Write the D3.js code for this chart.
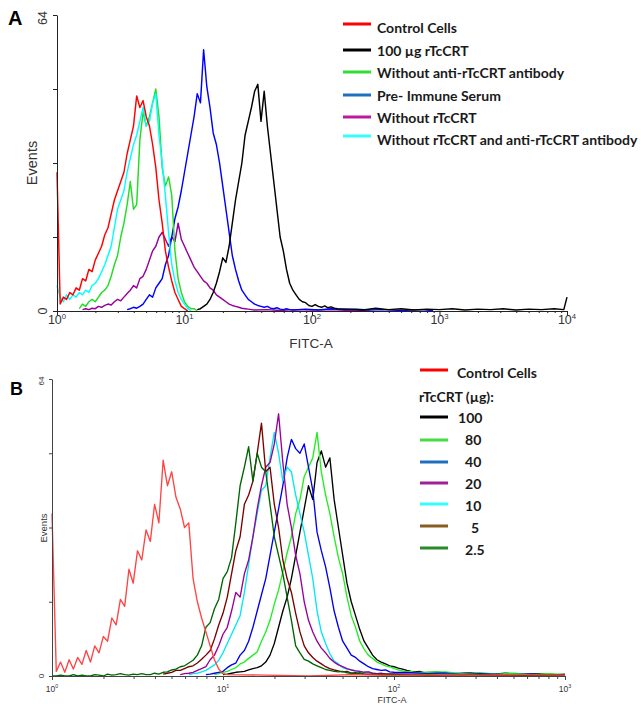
<!DOCTYPE html>
<html><head><meta charset="utf-8">
<script src="https://cdn.jsdelivr.net/npm/d3@7"></script>
<style>body{margin:0;background:#fff}svg{display:block}</style>
</head><body>
<svg id="c" width="641" height="707"></svg>
<script>
// ---------- DATA ----------
// channels: 40 per decade, FITC = 10^(channel/40)
const CH_PER_DECADE = 40;
const yTicks = [0, 16, 32, 48, 64];
const yLabelVals = [0, 64];

// Panel A
const aNames = ["Control Cells", "100 \u00b5g rTcCRT", "Without anti-rTcCRT antibody", "Pre- Immune Serum", "Without rTcCRT", "Without rTcCRT and anti-rTcCRT antibody"];
const aDecades = [1, 10, 100, 1000, 10000];
const aRed = [30,1.5,3,2.5,4,3.5,5,4.5,7,6.5,9,8.5,11,12.5,14,16.5,18,21,24,26,28,30,34,37,40,46.5,44,45.5,42,40,36,31,24,19,13,9.5,6.5,4,2.5,1,0.5,0];
const aBlack = [0.3,0.5,1,1.5,2.5,4,6,8.5,11.5,10.5,14,19,24,28,32,38,41,44,47.5,49,41,47.5,40,34,28,22,16,13,9,6,4.5,3.5,2.5,2,1.8,1.2,1,1.4,1,0.8,1.1,0.7,0.9,0.6,0.5];
const aGreen = [0.5,1.5,1,2,2.5,2,3,4,4.5,5.5,7.5,10,12,16,19,23,28,22,23,37,43,40,42,45,48,42,31,27,29,25,13,7,4,2,1,0.5,0.5,0];
const aBlue = [0.3,0.5,0.8,0.6,1,1.5,2.5,3.5,3,5,6,7,10,12,16,20,22.5,26,30,34,38,42,47,45,56.5,48.5,44,38.5,36,32,27,22,17,12,9,6.5,4.5,3.5,2.5,2,1.5,1.2,1,0.8,1,0.6,0.5,0.7,0.4,0.3,0.5,0.3,0.2];
const aPurple = [0.3,0.5,0.3,0.6,0.5,1,0.8,1.2,1.5,1.3,2,2.5,2.2,3,3.8,4.5,5.5,5,7,7.5,9,11,13,14,16,17,15.5,14,16,15,19,15.5,14,12.5,11,9.5,8.5,7.5,6.5,6,5,4.5,3.5,3,2.5,2,1.5,1.2,1,0.8,0.6,0.5,0.4,0.3,0.2];
const aCyan = [5.5,3,2,3.5,2.5,3.5,3,4,3.5,4.5,4,5.5,6,7,8.5,10,12,14,18,22,24,26,30,33,36,38,41,44,40,41,45,47,38,32,25,17,10,6.5,4,2.5,1.5,0.5,0];
// first channel of each A series (order: red, black, green, blue, purple, cyan)
const aStarts = [0, 44, 7, 22, 8, 0];
// sparse baseline tails [channel, count]
const aBlackTail = [[92,0.4],[96,0.2],[100,0.6],[104,0.3],[108,0.5],[112,0.2],[116,0.4],[120,0.3],[124,0.5],[128,0.2],[132,0.4],[136,0.3],[140,0.5],[144,0.2],[148,0.4],[152,0.3],[156,0.5],[159,0.3],[160,3]];
const aBlueTail = [[78,0.4],[82,0.2],[86,0.5],[90,0.3],[94,0.4],[98,0.2],[102,0.3],[108,0.1],[114,0.3],[118,0.1]];
const aPurpleTail = [[66,0.3],[70,0.1],[74,0.3],[80,0.2],[86,0.3],[92,0.1],[98,0.2]];

// Panel B
const bNames = ["Control Cells", "100", "80", "40", "20", "10", "5", "2.5"];
const bHeader = "rTcCRT (\u00b5g):";
const bDecades = [1, 10, 100, 1000];
const bRed = [35,1,3,0.8,3.5,1.5,4,2.5,5.5,3,6.5,5,8.5,7.5,12.5,11,16.5,15,23,20,27,25,31.5,29,37,33,46.5,41,44,38.5,36,32,33,21,16,12.5,9.5,6.5,3.5,1.5,0.5,0.3];
const bBlack = [0.3,0.4,0.6,0.8,0.9,1,1.3,1.6,1.8,2.2,3,4.5,7,10.5,14,17,21,26,31,36,41,38,46,48.5,45,47,38,32,26,20,16,13,10,7.5,6,4.5,3.5,3,2.6,2.2,2,1.7,1.5,1.2,1,0.9,1,0.7];
const bGreen = [0.3,0.5,0.8,1,1.4,1.8,2.6,3,3.8,4.5,5.2,7.5,9.5,12,15.5,18.5,22.5,26.5,30,35,38,43,45,47,52.5,44,39,35,30,25.5,22,17,13,10.5,7.5,5.8,4.5,3.8,3,2.6,2.2,2,1.6,1.3,1.1,0.9,1,0.7];
const bBlue = [0.3,0.4,0.6,0.8,1,1.8,2.4,2.8,4.5,5.5,7.5,10.5,14,17.5,21,26,31,36,41,47,51,49,48,50,45,40,31,27,23.5,19,14,10.5,7.5,6,4.5,4,3.2,2.6,2,1.6,1.4,1.2,1.3,0.9,0.8];
const bPurple = [0.3,0.5,0.6,0.8,1.2,1.6,2,3.5,4.5,6.5,9,10.5,14,18,17,22,25,30,36,41,45,46,50,56.5,46,37,32,26,22,16,12,9.5,7.5,6,5,3.8,3,2.4,2,1.6,1.3,1.1,1,0.8,0.9,0.6,0.5,0.6,0.4];
const bCyan = [0.3,0.5,0.6,0.9,1.2,1.8,2.4,3.4,5,7,9,11,13,18,24,30,35,40,41,47,52.5,48,42,45,44,39,35,31,26,21,14,9.5,7,4.8,3.2,2.6,1.8,1.5,1.3,1.1,1,0.8,0.9,0.6,0.5];
const bBrown = [0.4,0.6,0.8,1.2,1.2,1.6,2,2.2,2.8,3.6,4.5,5.5,8,11,13.5,17,22,27,30,37,39,42,48,54.5,44,45,37,32,25,21,18,13.5,9.5,6.5,5,4,3.2,2.6,2,1.6,1.3,1.1,0.9,1,0.6,0.7,0.5,0.4];
const bDkGreen = [0,0,0.2,0,0,0.3,0,0.2,0,0,0.3,0.2,0,0.4,0.2,0.3,0.5,0.3,0.2,0.4,0.3,0.5,0.3,0.3,0.6,0.4,0.8,0.9,1.3,1.5,2,2.2,2.8,3.4,4.5,6.5,10.5,11.5,14.5,16.5,21,22.5,25.5,33,41,45,49.4,42,48,45,44,37,30,26,22,17,12,6.5,5,3.6,3.2,2.6,2.2,1.8,1.4,1.2,1,0.9,1,0.7,0.6,0.5,0.7,0.4];
// order: red, black, green, blue, purple, cyan, brown, dark green
const bStarts = [0, 40, 38, 36, 30, 32, 26, 0];
const bRedTail = [[50,0.2],[60,0],[70,0.3],[80,0.1],[90,0.3],[100,0.2],[110,0.3],[120,0.2]];
const bBlackTail = [[90,0.8],[94,0.5],[98,0.7],[102,0.3],[106,0.6],[110,0.4],[114,0.5],[118,0.3],[120,0.4]];
const bGreenTail = [[88,0.8],[92,0.9],[96,0.5],[100,0.7],[104,0.4],[108,0.6],[112,0.3],[116,0.5],[120,0.3]];
const bBlueTail = [[84,0.7],[88,0.5],[92,0.6],[96,0.3],[100,0.5],[106,0.3],[112,0.4],[116,0.2],[120,0.3]];
const bPurpleTail = [[84,0.4],[90,0.3],[98,0.4],[106,0.2],[114,0.3],[120,0.2]];
const bCyanTail = [[82,0.4],[88,0.3],[96,0.4],[104,0.2],[112,0.3],[120,0.2]];
const bBrownTail = [[80,0.4],[88,0.2],[96,0.3],[104,0.2],[112,0.3],[120,0.1]];
const bDkGreenTail = [[80,0.3],[88,0.2],[96,0.3],[104,0.1],[112,0.2],[120,0.2]];

// ---------- STYLE ----------
const aCurveColors = ["#ff0000", "#000000", "#22dd22", "#0000ff", "#990099", "#00ffff"];
const aLegendColors = ["#ff0000", "#000000", "#33dd33", "#1f6fbf", "#c0189c", "#33ffff"];
const bCurveColors = ["#ff4444", "#000000", "#22ee22", "#0000ee", "#990099", "#00e8f0", "#7a0000", "#006400"];
const bLegendColors = ["#ff0000", "#000000", "#44dd44", "#1f6fbf", "#a0209a", "#33ffff", "#8b5a1f", "#2a8a2a"];

const svg = d3.select("#c");
const AX = "Liberation Sans, Arial, sans-serif";

function fitc(c) { return Math.pow(10, c / CH_PER_DECADE); }
function pts(start, counts, tail) {
  const p = counts.map((v, i) => [start + i, v]);
  return tail ? p.concat(tail) : p;
}

function panel(o) {
  const g = svg.append("g");
  const x = d3.scaleLog().domain([1, o.xMax]).range([o.x0, o.x1]);
  const y = d3.scaleLinear().domain([0, 64]).range([o.yBase, o.yTop]);
  const minor = [];
  o.decades.slice(0, -1).forEach(d => { for (let k = 2; k <= 9; k++) minor.push(d * k); });

  // curves
  const line = d3.line().x(d => x(fitc(d[0]))).y(d => y(d[1]));
  o.order.forEach(i => {
    g.append("path").datum(o.series[i]).attr("d", line)
      .attr("fill", "none").attr("stroke", o.colors[i]).attr("stroke-width", o.lw)
      .attr("stroke-linejoin", "round");
  });

  // x axis
  const gx = g.append("g").attr("transform", `translate(0,${o.yBase})`);
  gx.call(d3.axisBottom(x).tickValues(minor).tickSize(o.minorLen).tickSizeOuter(0).tickFormat(""));
  gx.call(g2 => g2.selectAll("path,line").attr("stroke", o.axisColor));
  const gx2 = g.append("g").attr("transform", `translate(0,${o.yBase})`);
  gx2.call(d3.axisBottom(x).tickValues(o.decades).tickSize(o.majorLen).tickSizeOuter(0).tickFormat(""));
  gx2.call(g2 => g2.selectAll("path,line").attr("stroke", o.axisColor));
  o.decades.forEach((d, i) => {
    const t = g.append("text").attr("x", x(d)).attr("y", o.xLabY).attr("text-anchor", "middle")
      .attr("font-family", AX).attr("font-size", o.xLabFs).attr("fill", "#333");
    t.append("tspan").text("10");
    t.append("tspan").attr("font-size", o.xLabFs * 0.62).attr("dy", -o.xLabFs * 0.42).text(String(i));
  });
  g.append("text").attr("x", o.fitcX).attr("y", o.fitcY).attr("text-anchor", "middle")
    .attr("font-family", AX).attr("font-size", o.fitcFs).attr("fill", "#333").text("FITC-A");

  // y axis
  const gy = g.append("g").attr("transform", `translate(${o.x0},0)`);
  gy.call(d3.axisLeft(y).tickValues(yTicks).tickSize(o.yTickLen).tickSizeOuter(0).tickFormat(""));
  gy.call(g2 => g2.selectAll("path,line").attr("stroke", o.axisColor));
  yLabelVals.forEach(v => {
    g.append("text").attr("transform", `translate(${o.yLabX},${y(v) + (v === 64 ? o.topShift : 0)}) rotate(-90)`)
      .attr("text-anchor", "middle").attr("font-family", AX).attr("font-size", o.yLabFs).attr("fill", "#333").text(v);
  });
  g.append("text").attr("transform", `translate(${o.evX},${o.evY}) rotate(-90)`)
    .attr("text-anchor", "middle").attr("font-family", AX).attr("font-size", o.evFs).attr("fill", "#333").text("Events");

  g.append("text").attr("x", o.letX).attr("y", o.letY).attr("font-family", AX).attr("font-weight", "bold")
    .attr("font-size", o.letFs).attr("fill", "#000").text(o.letter);
}

// ---------- PANEL A ----------
const aSeries = [
  pts(aStarts[0], aRed),
  pts(aStarts[1], aBlack, aBlackTail),
  pts(aStarts[2], aGreen),
  pts(aStarts[3], aBlue, aBlueTail),
  pts(aStarts[4], aPurple, aPurpleTail),
  pts(aStarts[5], aCyan)
];
panel({
  series: aSeries, colors: aCurveColors, order: [4, 3, 1, 2, 5, 0], lw: 1.45,
  xMax: 1e4, decades: aDecades, x0: 57, x1: 567, yBase: 311, yTop: 15,
  minorLen: 2, majorLen: 4, axisColor: "#222", xLabY: 324, xLabFs: 12.5,
  fitcX: 311, fitcY: 348, fitcFs: 13.5,
  yTickLen: 4, yLabX: 47, yLabFs: 12.5, topShift: 3,
  evX: 37, evY: 163, evFs: 14.5,
  letter: "A", letX: 8, letY: 25, letFs: 20
});

// ---------- PANEL B ----------
const bSeries = [
  pts(bStarts[0], bRed, bRedTail),
  pts(bStarts[1], bBlack, bBlackTail),
  pts(bStarts[2], bGreen, bGreenTail),
  pts(bStarts[3], bBlue, bBlueTail),
  pts(bStarts[4], bPurple, bPurpleTail),
  pts(bStarts[5], bCyan, bCyanTail),
  pts(bStarts[6], bBrown, bBrownTail),
  pts(bStarts[7], bDkGreen, bDkGreenTail)
];
panel({
  series: bSeries, colors: bCurveColors, order: [1, 2, 3, 5, 4, 6, 7, 0], lw: 1.35,
  xMax: 1e3, decades: bDecades, x0: 52, x1: 565, yBase: 676, yTop: 379,
  minorLen: 3, majorLen: 4, axisColor: "#444", xLabY: 692, xLabFs: 8.5,
  fitcX: 392, fitcY: 703, fitcFs: 9,
  yTickLen: 3, yLabX: 44, yLabFs: 8, topShift: 2,
  evX: 47, evY: 528, evFs: 9.5,
  letter: "B", letX: 10, letY: 395, letFs: 18
});

// ---------- LEGENDS ----------
const LF = "Lato, 'Open Sans', sans-serif";
function legendFont() {
  const t = svg.append("text").attr("font-family", LF).attr("font-weight", "bold").attr("font-size", 20).text("Control Cells");
  const w = t.node().getComputedTextLength();
  t.remove();
  return 20 * 80 / w;
}
const lfs = legendFont();

function legendRow(x1, x2, ly, tx, ty, color, label) {
  if (color) svg.append("line").attr("x1", x1).attr("x2", x2).attr("y1", ly).attr("y2", ly)
    .attr("stroke", color).attr("stroke-width", 3);
  svg.append("text").attr("x", tx).attr("y", ty + lfs * 0.35).attr("font-family", LF).attr("font-weight", "bold")
    .attr("font-size", lfs).attr("fill", "#1a1a1a").text(label);
}
const aLineY = [24, 50, 72, 95, 117, 136];
const aTextY = [28, 51, 73, 96, 118, 140];
aNames.forEach((n, i) => legendRow(343, 371, aLineY[i], 377, aTextY[i], aLegendColors[i], n));

const bLineY = [370, 417, 440, 462, 483, 504, 526, 548];
const bTextY = [373, 418, 440, 462, 484, 506, 528, 550];
const bTextX = [457, 458, 465, 465, 465, 465, 471, 465];
bNames.forEach((n, i) => legendRow(420, 448, bLineY[i], bTextX[i], bTextY[i], bLegendColors[i], n));
legendRow(0, 0, 0, 419, 397, null, bHeader);
</script>
</body></html>
